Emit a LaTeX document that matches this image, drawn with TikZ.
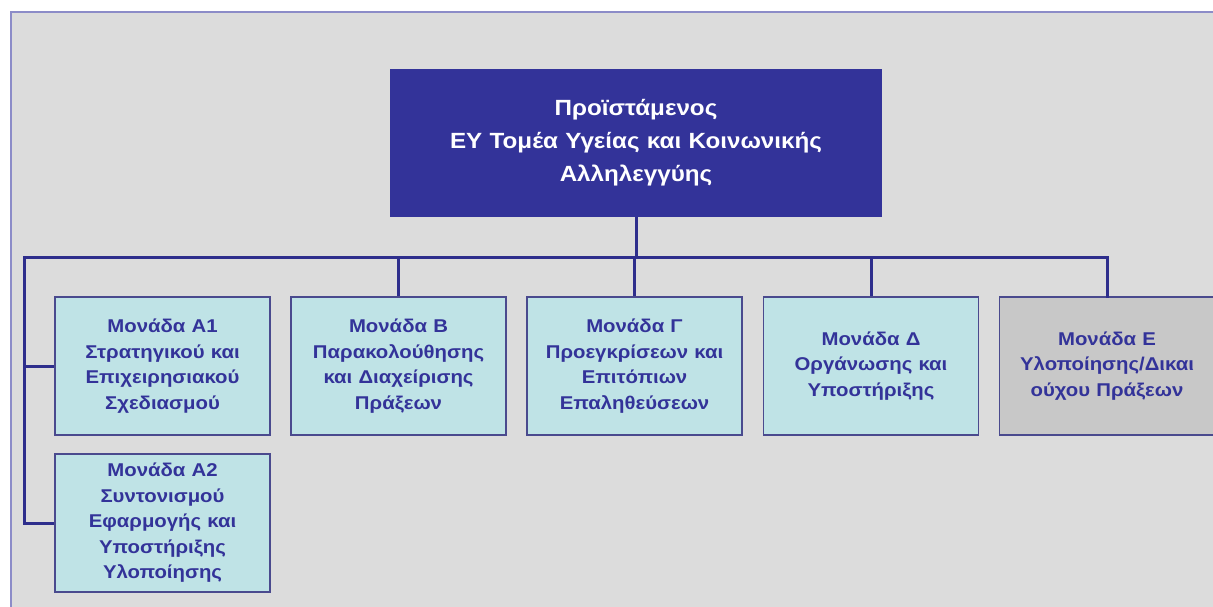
\documentclass[tikz,border=0pt]{standalone}
\usepackage{fontspec}
\setmainfont{Liberation Sans}[FakeStretch=1.1]
\definecolor{bg}{HTML}{DCDCDC}
\definecolor{navy}{HTML}{333399}
\definecolor{linec}{HTML}{2E2E8C}
\definecolor{boxedge}{HTML}{4A4A8E}
\definecolor{cyanbox}{HTML}{BFE3E6}
\definecolor{graybox}{HTML}{C8C8C8}
\definecolor{edgec}{HTML}{8C8CC8}
\tikzset{
  unit/.style={draw=boxedge, line width=1.2pt, fill=cyanbox, minimum width=215pt, minimum height=138pt, inner sep=0pt, text width=210pt, align=center, text=navy, font=\bfseries\fontsize{18.5}{25.5}\selectfont},
  link/.style={draw=linec, line width=3pt},
}
\begin{document}
\begin{tikzpicture}[x=1pt,y=-1pt]
\useasboundingbox (0,0) rectangle (1213,607);
\fill[white] (0,0) rectangle (1213,607);
\fill[bg] (11,12) rectangle (1213,607);
\draw[edgec, line width=1.5pt] (11,607) -- (11,12) -- (1213,12);
\node[draw=none, fill=navy, minimum width=492pt, minimum height=148pt, inner sep=0pt, text width=480pt, align=center, text=white, font=\bfseries\fontsize{22}{33}\selectfont] (top) at (636,143) {Προϊστάμενος\\ΕΥ Τομέα Υγείας και Κοινωνικής\\Αλληλεγγύης};
\node[unit] (a1) at (162.5,366) {Μονάδα Α1\\Στρατηγικού και\\Επιχειρησιακού\\Σχεδιασμού};
\node[unit] (a2) at (162.5,523) {Μονάδα Α2\\Συντονισμού\\Εφαρμογής και\\Υποστήριξης\\Υλοποίησης};
\node[unit] (b) at (398.5,366) {Μονάδα Β\\Παρακολούθησης\\και Διαχείρισης\\Πράξεων};
\node[unit] (g) at (634.5,366) {Μονάδα Γ\\Προεγκρίσεων και\\Επιτόπιων\\Επαληθεύσεων};
\node[unit] (d) at (871,366) {Μονάδα Δ\\Οργάνωσης και\\Υποστήριξης};
\node[unit, fill=graybox] (e) at (1107,366) {Μονάδα Ε\\Υλοποίησης/Δικαι\\ούχου Πράξεων};
\coordinate (busL) at (24,257);
\coordinate (busR) at (1107,257);
\draw[link] (top.south) -- (top.south |- busL);
\draw[link] (b.north |- busL) -- (b.north);
\draw[link] (g.north |- busL) -- (g.north);
\draw[link] (d.north |- busL) -- (d.north);
\draw[link, line cap=rect] (a2.west -| busL) -- (busL) -- (busR) -- (e.north);
\draw[link] (busL |- a1.west) -- (a1.west);
\draw[link] (busL |- a2.west) -- (a2.west);
\end{tikzpicture}
\end{document}
